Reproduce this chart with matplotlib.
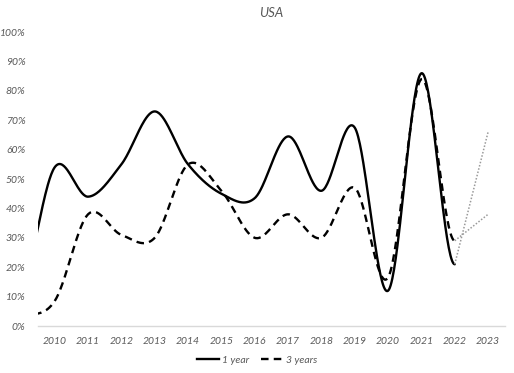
import numpy as np
import matplotlib.pyplot as plt

# ── Data (values in %)
years = [2009, 2010, 2011, 2012, 2013, 2014, 2015, 2016, 2017, 2018, 2019, 2020, 2021, 2022, 2023]
one_year = [12, 54, 44, 55, 73, 55, 45, 43.5, 64.5, 46, 67.5, 12, 86, 21, 66]
three_years = [3.7, 8.5, 38, 31, 30, 55, 46, 30, 38, 30, 47, 16.5, 84, 29, 38]
tick_years = list(range(2010, 2024))
y_ticks = list(range(0, 101, 10))
last_solid = 2022  # points after this are drawn as a dotted projection


def smooth(x, y, n=40):
    """Catmull-Rom curve through the points (same idea as Excel's smoothed line)."""
    x = np.asarray(x, float)
    y = np.asarray(y, float)
    m = np.empty_like(y)
    m[1:-1] = (y[2:] - y[:-2]) / 2
    m[0] = (y[1] - y[0]) / 2
    m[-1] = 0.0  # curve flattens out into the last point
    xs, ys = [], []
    for i in range(len(x) - 1):
        t = np.linspace(0, 1, n)
        h00 = 2 * t**3 - 3 * t**2 + 1
        h10 = t**3 - 2 * t**2 + t
        h01 = -2 * t**3 + 3 * t**2
        h11 = t**3 - t**2
        xs.append(x[i] + t * (x[i + 1] - x[i]))
        ys.append(h00 * y[i] + h10 * m[i] + h01 * y[i + 1] + h11 * m[i + 1])
    return np.concatenate(xs), np.concatenate(ys)


fig = plt.figure(figsize=(5.14, 3.73), dpi=100)
ax = fig.add_axes([0.074, 0.126, 0.908, 0.788])

font = "Lato"
grey_txt = "#595959"
dash = (0, (3.2, 2.2))

k = years.index(last_solid) + 1
for vals, ls in [(one_year, "-"), (three_years, dash)]:
    sx, sy = smooth(years[:k], vals[:k])
    ax.plot(sx, sy, color="black", lw=1.7, linestyle=ls, solid_capstyle="round")
    ax.plot(years[k - 1:], vals[k - 1:], color="#9a9a9a", lw=1.1,
            linestyle=(0, (1, 1.2)))

ax.set_xlim(2009.5, 2023.5)
ax.set_ylim(0, 100)
ax.set_xticks(tick_years)
ax.set_xticklabels([str(y) for y in tick_years])
ax.set_yticks(y_ticks)
ax.set_yticklabels([f"{v}%" for v in y_ticks])
ax.tick_params(length=0, labelsize=7.5, labelcolor=grey_txt)
ax.tick_params(axis="x", pad=8)
ax.tick_params(axis="y", pad=9)
for lab in ax.get_xticklabels() + ax.get_yticklabels():
    lab.set_fontstyle("italic")
    lab.set_fontfamily(font)

for side in ["top", "right", "left"]:
    ax.spines[side].set_visible(False)
ax.spines["bottom"].set_color("#d9d9d9")
ax.spines["bottom"].set_linewidth(1)

ax.set_title("USA", fontsize=9.5, color=grey_txt, style="italic",
             family=font, pad=11)

h1, = ax.plot([], [], color="black", lw=1.7, label="1 year")
h2, = ax.plot([], [], color="black", lw=1.7, linestyle=dash, label="3 years")
fig.legend(handles=[h1, h2], loc="center", bbox_to_anchor=(0.5, 0.035), ncol=2,
           frameon=False, handlelength=2.2, handletextpad=0.2, columnspacing=1.2,
           prop={"family": font, "style": "italic", "size": 7.5}, labelcolor=grey_txt)

plt.savefig("out.png", dpi=100)
